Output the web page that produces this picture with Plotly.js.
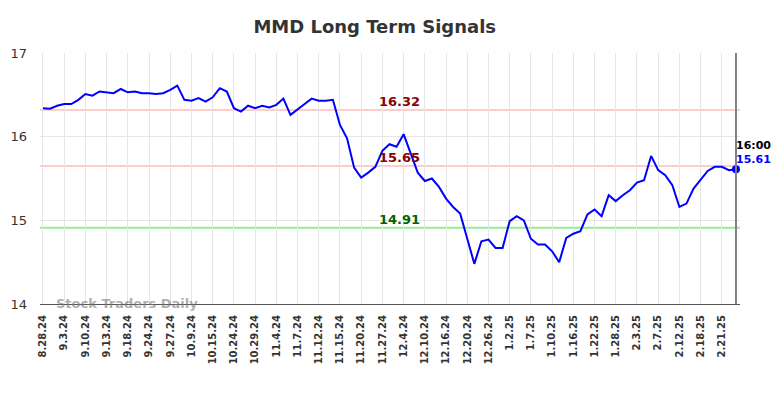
<!DOCTYPE html>
<html>
<head>
<meta charset="utf-8">
<script src="https://cdn.plot.ly/plotly-3.0.1.min.js"></script>
<style>html,body{margin:0;padding:0;background:#fff;}#chart{width:784px;height:398px;}</style>
</head>
<body>
<div id="chart"></div>
<script>
const tickLabels = ["8.28.24","9.3.24","9.10.24","9.13.24","9.18.24","9.24.24","9.27.24","10.9.24","10.15.24","10.24.24","10.29.24","11.4.24","11.7.24","11.12.24","11.15.24","11.20.24","11.27.24","12.4.24","12.10.24","12.16.24","12.20.24","12.26.24","1.2.25","1.7.25","1.10.25","1.16.25","1.22.25","1.28.25","2.3.25","2.7.25","2.12.25","2.18.25","2.21.25"];
const prices = [16.34,16.335,16.37,16.39,16.39,16.44,16.51,16.49,16.54,16.53,
16.52,16.57,16.53,16.54,16.52,16.52,16.51,16.52,16.56,16.61,
16.44,16.43,16.46,16.42,16.47,16.58,16.54,16.34,16.30,16.37,
16.34,16.37,16.35,16.38,16.455,16.26,16.33,16.39,16.455,16.43,
16.43,16.44,16.14,15.98,15.63,15.51,15.57,15.64,15.83,15.91,
15.88,16.03,15.80,15.57,15.47,15.50,15.40,15.26,15.16,15.08,
14.78,14.48,14.75,14.77,14.67,14.67,14.99,15.05,15.00,14.78,
14.71,14.71,14.63,14.50,14.79,14.84,14.87,15.07,15.13,15.05,
15.30,15.23,15.30,15.36,15.45,15.48,15.77,15.60,15.54,15.42,
15.16,15.20,15.38,15.49,15.59,15.64,15.64,15.60,15.61];
const signalLevels = [16.32, 15.65, 14.91];
const signalColors = ["#ffcccc", "#ffcccc", "#90ee90"];
const signalTextColors = ["#8b0000", "#8b0000", "#006400"];
const lastTime = "16:00";

const idx = prices.map((_, i) => i);
const tickVals = tickLabels.map((_, i) => i * 3);
const lastI = prices.length - 1;

const traces = [
  {x: idx, y: prices, type: "scatter", mode: "lines", line: {color: "#0000ff", width: 2}, hoverinfo: "skip"},
  {x: [lastI], y: [prices[lastI]], type: "scatter", mode: "markers", marker: {color: "#0000ff", size: 8}, hoverinfo: "skip"}
];

const shapes = signalLevels.map((v, k) => ({
  type: "line", xref: "paper", x0: 0, x1: 1, yref: "y", y0: v, y1: v,
  line: {color: signalColors[k], width: 2}, layer: "below"
}));
shapes.push({type: "line", xref: "x", x0: lastI, x1: lastI, yref: "paper", y0: 0, y1: 1,
  line: {color: "#808080", width: 2}});

const annotations = signalLevels.map((v, k) => ({
  x: 50.4, y: v, xref: "x", yref: "y", text: v.toFixed(2), showarrow: false,
  yanchor: "bottom", yshift: -1,
  font: {family: "DejaVu Sans", size: 13, color: signalTextColors[k], weight: "bold"}
}));
annotations.push({x: lastI, y: prices[lastI], xref: "x", yref: "y", text: lastTime, showarrow: false,
  xanchor: "left", yanchor: "middle", yshift: 24, xshift: -2,
  font: {family: "DejaVu Sans", size: 11, color: "#000", weight: "bold"}});
annotations.push({x: lastI, y: prices[lastI], xref: "x", yref: "y", text: prices[lastI].toFixed(2), showarrow: false,
  xanchor: "left", yanchor: "middle", yshift: 10, xshift: -2,
  font: {family: "DejaVu Sans", size: 11, color: "#0000ff", weight: "bold"}});
annotations.push({x: 0.02, y: 14, xref: "paper", yref: "y", text: "Stock Traders Daily", showarrow: false,
  xanchor: "left", yanchor: "middle", yshift: 1,
  font: {family: "DejaVu Sans", size: 13, color: "rgba(120,120,120,0.6)", weight: "bold"}});

const layout = {
  width: 784, height: 398,
  margin: {l: 40, r: 44, t: 53, b: 94},
  paper_bgcolor: "#fff", plot_bgcolor: "#fff",
  showlegend: false,
  title: {text: "MMD Long Term Signals", x: 0.478, xref: "container", y: 0.95, yref: "container",
    font: {family: "DejaVu Sans", size: 18, color: "#333", weight: "bold"}},
  xaxis: {
    range: [-0.42, 98.57], tickmode: "array", tickvals: tickVals, ticktext: tickLabels,
    tickangle: -90, showgrid: true, gridcolor: "#e6e6e6", gridwidth: 1,
    zeroline: false, showline: true, linecolor: "#555", linewidth: 1,
    ticks: "", ticklabelstandoff: 6,
    tickfont: {family: "DejaVu Sans", size: 10, color: "#333", weight: "bold"}
  },
  yaxis: {
    range: [14, 17], tickvals: [14, 15, 16, 17], showgrid: true, gridcolor: "#e6e6e6", gridwidth: 1,
    zeroline: false, showline: false, ticks: "", ticklabelstandoff: 12,
    tickfont: {family: "DejaVu Sans", size: 13, color: "#333"}
  },
  shapes: shapes,
  annotations: annotations
};

Plotly.newPlot("chart", traces, layout, {displayModeBar: false, staticPlot: true});
</script>
</body>
</html>
